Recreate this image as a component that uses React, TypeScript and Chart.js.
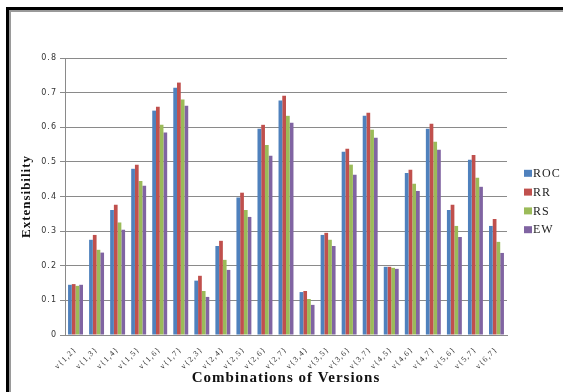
import React, { useEffect, useRef } from "react";
import { Chart, registerables } from "chart.js";

Chart.register(...registerables);

const categories = [
  "v{1,2}", "v{1,3}", "v{1,4}", "v{1,5}", "v{1,6}", "v{1,7}",
  "v{2,3}", "v{2,4}", "v{2,5}", "v{2,6}", "v{2,7}",
  "v{3,4}", "v{3,5}", "v{3,6}", "v{3,7}",
  "v{4,5}", "v{4,6}", "v{4,7}",
  "v{5,6}", "v{5,7}",
  "v{6,7}",
];

const rocValues = [0.145, 0.275, 0.361, 0.48, 0.648, 0.714, 0.157, 0.257, 0.397, 0.596, 0.677, 0.124, 0.289, 0.529, 0.633, 0.197, 0.468, 0.596, 0.361, 0.506, 0.315];
const rrValues = [0.147, 0.289, 0.376, 0.492, 0.659, 0.729, 0.171, 0.272, 0.411, 0.607, 0.691, 0.127, 0.295, 0.538, 0.642, 0.197, 0.477, 0.61, 0.376, 0.52, 0.335];
const rsValues = [0.142, 0.246, 0.325, 0.445, 0.607, 0.68, 0.127, 0.217, 0.361, 0.549, 0.633, 0.104, 0.275, 0.492, 0.593, 0.194, 0.437, 0.558, 0.315, 0.454, 0.269];
const ewValues = [0.145, 0.238, 0.304, 0.431, 0.585, 0.662, 0.11, 0.188, 0.341, 0.518, 0.613, 0.087, 0.257, 0.463, 0.57, 0.191, 0.416, 0.535, 0.283, 0.428, 0.237];

const seriesLabels = ["ROC", "RR", "RS", "EW"];
const seriesColors = ["#4F81BD", "#C0504D", "#9BBB59", "#8064A2"];

const yMax = 0.8;
const yStep = 0.1;

const legendPlugin = {
  id: "sideLegend",
  afterDraw(chart: any) {
    const ctx = chart.ctx;
    const { right, top, bottom } = chart.chartArea;
    const ds = chart.data.datasets;
    const n = ds.length;
    const rowH = 18.8;
    const cy = (top + bottom) / 2 + 5;
    const x0 = right + 17;
    ctx.save();
    ctx.letterSpacing = "1px";
    ctx.font = '12px "Liberation Serif"';
    ctx.textBaseline = "middle";
    ctx.textAlign = "left";
    for (let i = 0; i < n; i++) {
      const y = cy + (i - (n - 1) / 2) * rowH;
      ctx.fillStyle = ds[i].backgroundColor;
      ctx.fillRect(x0, y - 3.5, 8, 7);
      ctx.fillStyle = "#222";
      ctx.fillText(ds[i].label, x0 + 9, y + 0.5);
    }
    ctx.restore();
  },
};

const spacingPlugin = {
  id: "spacing",
  beforeDraw(chart: any) {
    chart.ctx.letterSpacing = "1px";
  },
};

export default function App() {
  const canvasRef = useRef<HTMLCanvasElement | null>(null);

  useEffect(() => {
    const canvas = canvasRef.current;
    if (!canvas) return;
    const values = [rocValues, rrValues, rsValues, ewValues];
    const chart = new Chart(canvas, {
      type: "bar",
      data: {
        labels: categories,
        datasets: seriesLabels.map((label, i) => ({
          label,
          data: values[i],
          backgroundColor: seriesColors[i],
          borderWidth: 0,
          categoryPercentage: 0.71,
          barPercentage: 1,
        })),
      },
      options: {
        responsive: false,
        maintainAspectRatio: false,
        animation: false,
        devicePixelRatio: 1,
        layout: { padding: { top: 58, right: 56, bottom: 0, left: 0 } },
        plugins: {
          legend: { display: false },
          tooltip: { enabled: false },
          title: { display: false },
        },
        scales: {
          x: {
            grid: { display: false },
            border: { display: true, color: "#8a8a8a", width: 1 },
            ticks: {
              autoSkip: false,
              minRotation: 45,
              maxRotation: 45,
              padding: 2,
              color: "#333",
              font: { family: "Liberation Serif", size: 8 },
            },
            title: {
              display: true,
              text: "Combinations of Versions",
              color: "#111",
              font: { family: "Liberation Serif", size: 15, weight: "bold" },
              padding: { top: 0, bottom: 5 },
            },
            afterFit(scale: any) {
              scale.height = 57;
            },
          },
          y: {
            min: 0,
            max: yMax,
            grid: { color: "#8a8a8a", lineWidth: 1, drawTicks: true, tickLength: 5, tickColor: "#8a8a8a" },
            border: { display: true, color: "#8a8a8a", width: 1 },
            ticks: {
              stepSize: yStep,
              padding: 3,
              color: "#333",
              font: { family: "DejaVu Sans", size: 8 },
              callback: (v: any) => (Number(v) === 0 ? "0" : Number(v).toFixed(1)),
            },
            title: {
              display: true,
              text: "Extensibility",
              color: "#111",
              font: { family: "Liberation Serif", size: 13, weight: "bold" },
              padding: { top: 19, bottom: 0 },
            },
            afterFit(scale: any) {
              scale.width = 65;
            },
          },
        },
      },
      plugins: [spacingPlugin, legendPlugin],
    } as any);
    return () => chart.destroy();
  }, []);

  return (
    <div
      style={{
        position: "fixed",
        left: 0,
        top: 0,
        width: 563,
        height: 392,
        overflow: "hidden",
        background: "#fff",
      }}
    >
      <div
        style={{
          position: "absolute",
          left: 6,
          top: 7,
          width: 600,
          height: 420,
          borderLeft: "3px solid #000",
          borderTop: "3px solid #000",
          boxShadow: "inset 2px 2px 0 #9a9a9a",
          boxSizing: "border-box",
        }}
      />
      <canvas
        ref={canvasRef}
        width={563}
        height={392}
        style={{ position: "absolute", left: 0, top: 0, width: 563, height: 392 }}
      />
    </div>
  );
}
